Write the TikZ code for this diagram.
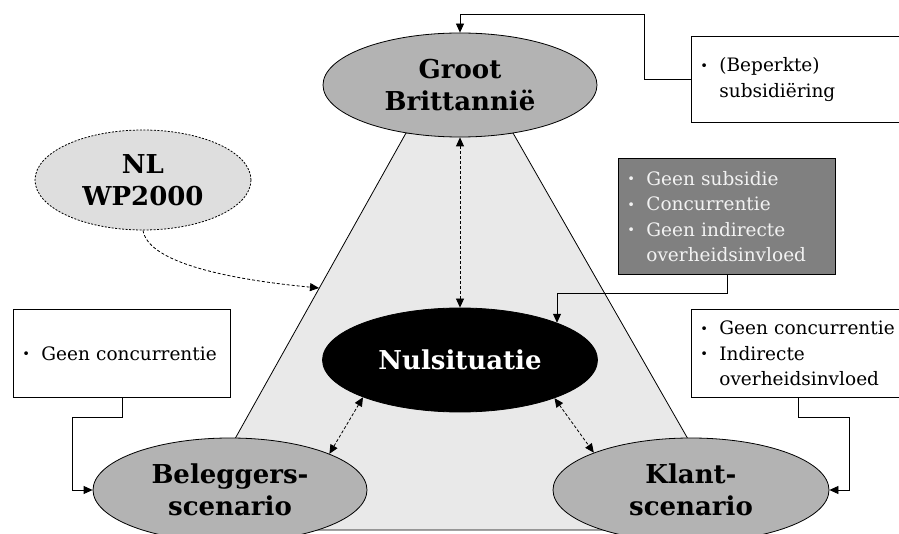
\documentclass[tikz,border=0pt]{standalone}
\usepackage{fontspec}
\setmainfont{DejaVu Serif}
\usetikzlibrary{shapes.geometric,arrows.meta}
\definecolor{gbfill}{HTML}{B3B3B3}
\definecolor{nlfill}{HTML}{DEDEDE}
\definecolor{trapfill}{HTML}{E9E9E9}
\definecolor{dbfill}{HTML}{808080}
\definecolor{dbtext}{HTML}{F2F2F2}
\newcommand\bul{\makebox[19pt][l]{\raisebox{1.2pt}{\fontsize{13}{13}\selectfont •}}}
\newcommand\ind{\hspace*{19pt}}
\tikzset{
  box/.style={draw=black, line width=0.8pt, fill=white, inner xsep=9pt, inner ysep=0pt,
    align=left, font=\fontsize{18.5}{25.5}\selectfont, anchor=north west},
  ell/.style={ellipse, draw=black, line width=0.8pt, inner sep=0pt, align=center,
    font=\fontsize{26}{32}\selectfont\bfseries},
  conn/.style={line width=0.8pt, -{Triangle[length=9pt,width=8pt]}},
  dconn/.style={line width=0.8pt, dash pattern=on 3pt off 2pt,
    {Triangle[length=9pt,width=8pt]}-{Triangle[length=9pt,width=8pt]}},
  sconn/.style={line width=0.8pt, dash pattern=on 3pt off 2pt,
    -{Triangle[length=9pt,width=8pt]}},
}
\begin{document}
\begin{tikzpicture}[x=1pt,y=-1pt]
\clip (0,0) rectangle (899,534);
\fill[white] (0,0) rectangle (899,534);
% background trapezoid
\draw[fill=trapfill, line width=0.8pt] (406,133) -- (513,133) -- (740,530) -- (184,530) -- cycle;
\coordinate (nlend) at (319,288);
% ellipses
\node[ell, fill=gbfill, minimum width=274, minimum height=104] (gb) at (460,85) {Groot\\Brittannië};
\node[ell, fill=nlfill, dash pattern=on 2pt off 1.5pt, minimum width=216, minimum height=100] (nl) at (143,180) {NL\\WP2000};
\node[ell, fill=black, text=white, minimum width=275, minimum height=104] (nul) at (460,360) {Nulsituatie};
\node[ell, fill=gbfill, minimum width=274, minimum height=104] (bel) at (230,490) {Beleggers-\\scenario};
\node[ell, fill=gbfill, minimum width=276, minimum height=104] (kl) at (691,490) {Klant-\\scenario};
% boxes
\node[box, text width=199pt, minimum height=88] (lb) at (13,309) {\bul Geen~concurrentie};
\node[box, fill=dbfill, text=dbtext, text width=199pt, minimum height=116] (db) at (618,158)
  {\bul Geen~subsidie\\ \bul Concurrentie\\ \bul Geen~indirecte\\ \ind overheidsinvloed};
\node[box, text width=196pt, minimum height=86] (tr) at (691,36) {\bul (Beperkte)\\ \ind subsidiëring};
\node[box, text width=196pt, minimum height=88] (rb) at (691,309)
  {\bul Geen~concurrentie\\ \bul Indirecte\\ \ind overheidsinvloed};
% connectors
\draw[conn] (tr.west) -- ++(-47,0) -- ++(0,-65) -| (gb.north);
\draw[conn] (db.south) -- ++(0,19) -| (nul.21);
\draw[conn] (lb.south) -- ++(0,20) -- ++(-49.5,0) |- (bel.west);
\draw[conn] (rb.south) -- ++(0,20) -- ++(51,0) |- (kl.east);
\draw[dconn] (gb.south) -- (nul.north);
\draw[dconn] (nul.201.7) -- (bel.20.7);
\draw[dconn] (nul.338.8) -- (kl.159.3);
\draw[sconn] (nl.south) .. controls (148,262) and (225,279) .. (nlend);
\end{tikzpicture}
\end{document}
